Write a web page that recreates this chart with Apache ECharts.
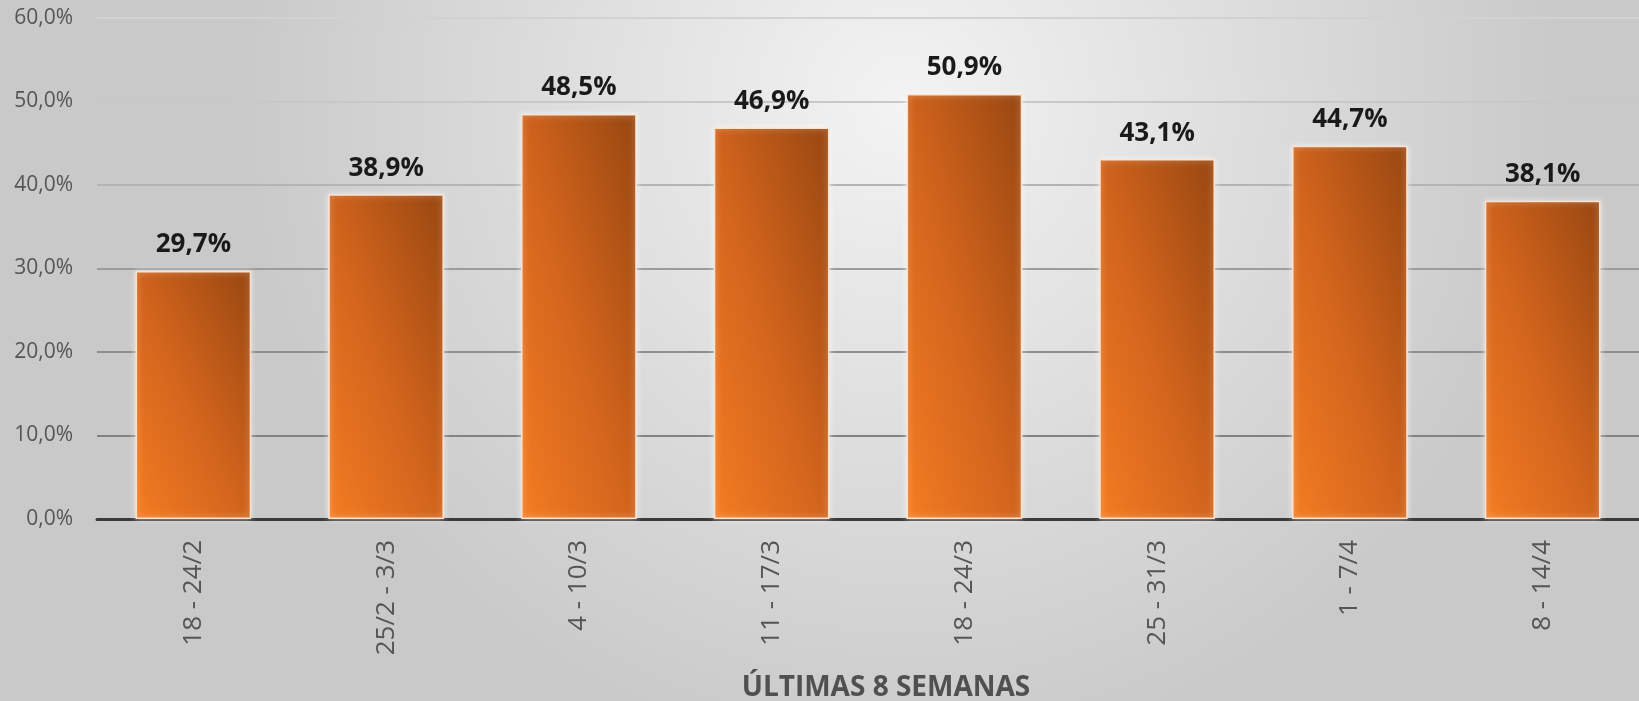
<!DOCTYPE html>
<html>
<head>
<meta charset="utf-8">
<script src="https://cdn.jsdelivr.net/npm/echarts@6/dist/echarts.min.js"></script>
<style>
  html, body { margin: 0; padding: 0; }
  #chart { width: 1639px; height: 701px; }
</style>
</head>
<body>
<div id="chart"></div>
<script>
// dados do gráfico
var semanas = ['18 - 24/2', '25/2 - 3/3', '4 - 10/3', '11 - 17/3', '18 - 24/3', '25 - 31/3', '1 - 7/4', '8 - 14/4']
var valores = [29.7, 38.9, 48.5, 46.9, 50.9, 43.1, 44.7, 38.1]
var tituloEixo = 'ÚLTIMAS 8 SEMANAS'

function pct(v) {
  return v.toFixed(1).replace('.', ',') + '%'
}

// gradiente diagonal no sentido da caixa (canto inf. esq. -> canto sup. dir.)
// r = altura / largura da barra em pixels
function gradiente(r) {
  var r2 = r * r
  var x1 = 2 * r2 / (r2 + 1)
  var y1 = 1 - 2 / (r2 + 1)
  return new echarts.graphic.LinearGradient(0, 1, x1, y1, [
    { offset: 0, color: '#f47c22' },
    { offset: 0.5, color: '#d0631c' },
    { offset: 1, color: '#984711' }
  ])
}

var chart = echarts.init(document.getElementById('chart'))

var option = {
  // fundo cinza com gradiente radial
  backgroundColor: new echarts.graphic.RadialGradient(0.55, 0.15, 0.95, [
    { offset: 0, color: '#f3f3f3' },
    { offset: 1, color: '#c9c9c9' }
  ]),
  title: {
    text: tituloEixo,
    left: 881,
    top: 669,
    textAlign: 'center',
    textStyle: {
      fontFamily: 'Open Sans',
      fontWeight: 'bold',
      fontSize: 28,
      color: '#505050'
    }
  },
  grid: {
    left: 97,
    right: -12,
    top: 18,
    bottom: 182
  },
  xAxis: {
    type: 'category',
    data: semanas,
    axisLine: { lineStyle: { color: '#3a3a3a', width: 3 } },
    axisTick: { show: false },
    axisLabel: {
      rotate: 90,
      margin: 21,
      fontFamily: 'Open Sans',
      fontSize: 26,
      color: '#555555'
    }
  },
  yAxis: {
    type: 'value',
    min: 0,
    max: 60,
    interval: 10,
    axisLine: { show: false },
    axisTick: { show: false },
    axisLabel: {
      margin: 24,
      fontFamily: 'Open Sans',
      fontSize: 21,
      color: '#555555',
      formatter: function (v) { return pct(v) }
    },
    splitLine: {
      lineStyle: {
        width: 2,
        color: ['#555555', '#828282', '#8e8e8e', '#9c9c9c', '#b4b4b4', '#c8c8c8', '#d2d2d2']
      }
    }
  },
  series: [
    {
      type: 'bar',
      data: valores,
      barWidth: '60%',
      itemStyle: {
        color: gradiente(3),
        borderColor: '#ffe2cc',
        borderWidth: 1.5,
        shadowColor: 'rgba(255,255,255,0.6)',
        shadowBlur: 6
      },
      label: {
        show: true,
        position: 'top',
        distance: 13,
        fontFamily: 'Open Sans',
        fontWeight: 'bold',
        fontSize: 26,
        color: '#1a1a1a',
        formatter: function (p) { return pct(p.value) }
      }
    }
  ]
}

chart.setOption(option)

// ajusta o gradiente de cada barra à sua proporção real
var p0 = chart.convertToPixel({ seriesIndex: 0 }, [0, 0])
var p1 = chart.convertToPixel({ seriesIndex: 0 }, [1, 0])
var largura = (p1[0] - p0[0]) * 0.6
var dados = valores.map(function (v, i) {
  var topo = chart.convertToPixel({ seriesIndex: 0 }, [i, v])
  var altura = p0[1] - topo[1]
  return { value: v, itemStyle: { color: gradiente(altura / largura) } }
})
chart.setOption({ series: [{ data: dados }] })
</script>
</body>
</html>
